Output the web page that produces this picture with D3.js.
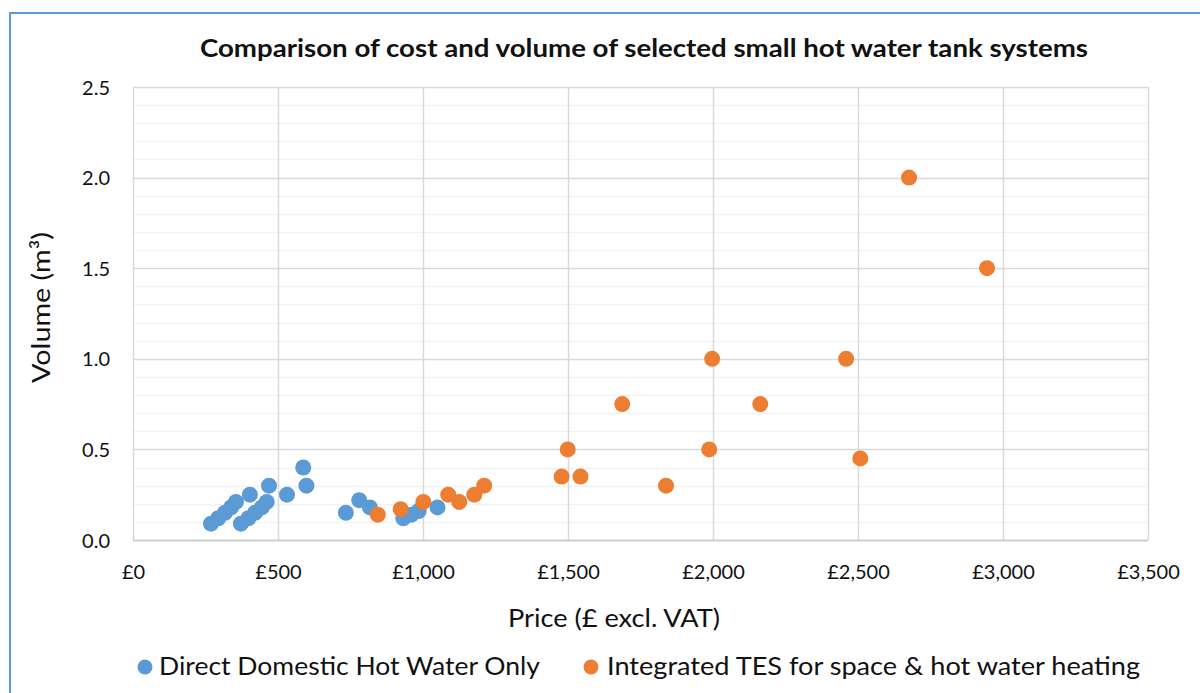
<!DOCTYPE html>
<html>
<head>
<meta charset="utf-8">
<script src="https://cdn.jsdelivr.net/npm/d3@7"></script>
<style>
  html, body { margin: 0; padding: 0; background: #fff; }
  svg { display: block; font-family: Lato, "Open Sans", sans-serif; }
</style>
</head>
<body>
<svg id="chart" width="1200" height="693"></svg>
<script>
// ---- data ----
const blueName = "Direct Domestic Hot Water Only";
const orangeName = "Integrated TES for space & hot water heating";
const blueX = [269, 294, 317, 338, 355, 372, 398, 421, 444, 461, 403, 469, 531, 587, 598, 734, 780, 817, 932, 960, 985, 1050];
const blueY = [0.09, 0.12, 0.15, 0.18, 0.21, 0.09, 0.12, 0.15, 0.18, 0.21, 0.25, 0.30, 0.25, 0.40, 0.30, 0.15, 0.22, 0.18, 0.12, 0.14, 0.16, 0.18];
const orangeX = [844, 923, 1001, 1087, 1125, 1177, 1211, 1478, 1499, 1543, 1687, 1838, 1987, 1997, 2163, 2459, 2508, 2676, 2945];
const orangeY = [0.14, 0.17, 0.21, 0.25, 0.21, 0.25, 0.30, 0.35, 0.50, 0.35, 0.75, 0.30, 0.50, 1.0, 0.75, 1.0, 0.45, 2.0, 1.5];
const xTicks = [0, 500, 1000, 1500, 2000, 2500, 3000, 3500];
const yTicks = [0, 0.5, 1.0, 1.5, 2.0, 2.5];
const yMinorTicks = d3.range(0, 25).map(i => i / 10);

const title = "Comparison of cost and volume of selected small hot water tank systems";
const xTitle = "Price (£ excl. VAT)";
const yTitle = "Volume (m³)";

// ---- layout ----
const svg = d3.select("#chart");
const L = 133, R = 1148, T = 87, B = 540;
const x = d3.scaleLinear().domain([0, 3500]).range([L, R]);
const y = d3.scaleLinear().domain([0, 2.5]).range([B, T]);
const blue = "#5B9BD5", orange = "#ED7D31";

// chart border (blue)
svg.append("path")
  .attr("d", `M10,693 L10,13 L1200,13`)
  .attr("fill", "none").attr("stroke", "#5B9BD5").attr("stroke-width", 2);

// minor horizontal gridlines
svg.append("g").selectAll("line").data(yMinorTicks.filter(v => Math.round(v * 10) % 5 !== 0))
  .join("line")
  .attr("x1", L).attr("x2", R)
  .attr("y1", d => Math.round(y(d)) + 0.5).attr("y2", d => Math.round(y(d)) + 0.5)
  .attr("stroke", "#f2f2f2").attr("stroke-width", 1.5);

// major gridlines
svg.append("g").selectAll("line").data(yTicks)
  .join("line")
  .attr("x1", L).attr("x2", R)
  .attr("y1", d => Math.round(y(d)) + 0.5).attr("y2", d => Math.round(y(d)) + 0.5)
  .attr("stroke", "#d9d9d9").attr("stroke-width", 1.5);
svg.append("g").selectAll("line").data(xTicks)
  .join("line")
  .attr("y1", T).attr("y2", B)
  .attr("x1", d => Math.round(x(d)) + 0.5).attr("x2", d => Math.round(x(d)) + 0.5)
  .attr("stroke", "#d9d9d9").attr("stroke-width", 1.5);

// bottom axis line
svg.append("line").attr("x1", L).attr("x2", R).attr("y1", B + 0.5).attr("y2", B + 0.5)
  .attr("stroke", "#c8c8c8").attr("stroke-width", 1.5);

// axes labels via d3 axes
const xAxis = d3.axisBottom(x).tickValues(xTicks).tickSize(0).tickPadding(0)
  .tickFormat(d => "£" + d3.format(",")(d));
const gx = svg.append("g").attr("transform", `translate(0,${B + 39})`).call(xAxis);
gx.select(".domain").remove();
gx.selectAll("text").attr("font-size", 20).attr("fill", "#111")
  .attr("font-family", "Lato").attr("dy", 0);

const yAxis = d3.axisLeft(y).tickValues(yTicks).tickSize(0).tickPadding(0)
  .tickFormat(d3.format(".1f"));
const gy = svg.append("g").attr("transform", `translate(110,0)`).call(yAxis);
gy.select(".domain").remove();
gy.selectAll("text").attr("font-size", 20).attr("fill", "#111")
  .attr("font-family", "Lato").attr("dy", "0.35em");

// points
svg.append("g").selectAll("circle").data(blueX.map((v, i) => [v, blueY[i]]))
  .join("circle")
  .attr("cx", d => x(d[0])).attr("cy", d => y(d[1])).attr("r", 8)
  .attr("fill", blue);
svg.append("g").selectAll("circle").data(orangeX.map((v, i) => [v, orangeY[i]]))
  .join("circle")
  .attr("cx", d => x(d[0])).attr("cy", d => y(d[1])).attr("r", 8)
  .attr("fill", orange);

// title
svg.append("text").attr("x", 200).attr("y", 57)
  .attr("font-size", 24).attr("font-weight", "bold").attr("fill", "#111")
  .attr("textLength", 888).attr("lengthAdjust", "spacingAndGlyphs")
  .text(title);

// x title
svg.append("text").attr("x", 508).attr("y", 627)
  .attr("font-size", 25).attr("fill", "#111")
  .attr("textLength", 212).attr("lengthAdjust", "spacingAndGlyphs")
  .text(xTitle);

// y title
svg.append("text")
  .attr("transform", `translate(50,383) rotate(-90)`)
  .attr("font-size", 25).attr("fill", "#111")
  .attr("textLength", 151).attr("lengthAdjust", "spacingAndGlyphs")
  .text(yTitle);

// legend
const legend = [
  { name: blueName, color: blue, cx: 145, tx: 159, len: 381 },
  { name: orangeName, color: orange, cx: 591, tx: 607, len: 533 }
];
const lg = svg.append("g");
legend.forEach(l => {
  lg.append("circle").attr("cx", l.cx).attr("cy", 667).attr("r", 7.5).attr("fill", l.color);
  lg.append("text").attr("x", l.tx).attr("y", 675)
    .attr("font-size", 25).attr("fill", "#111")
    .attr("textLength", l.len).attr("lengthAdjust", "spacingAndGlyphs")
    .text(l.name);
});
</script>
</body>
</html>
